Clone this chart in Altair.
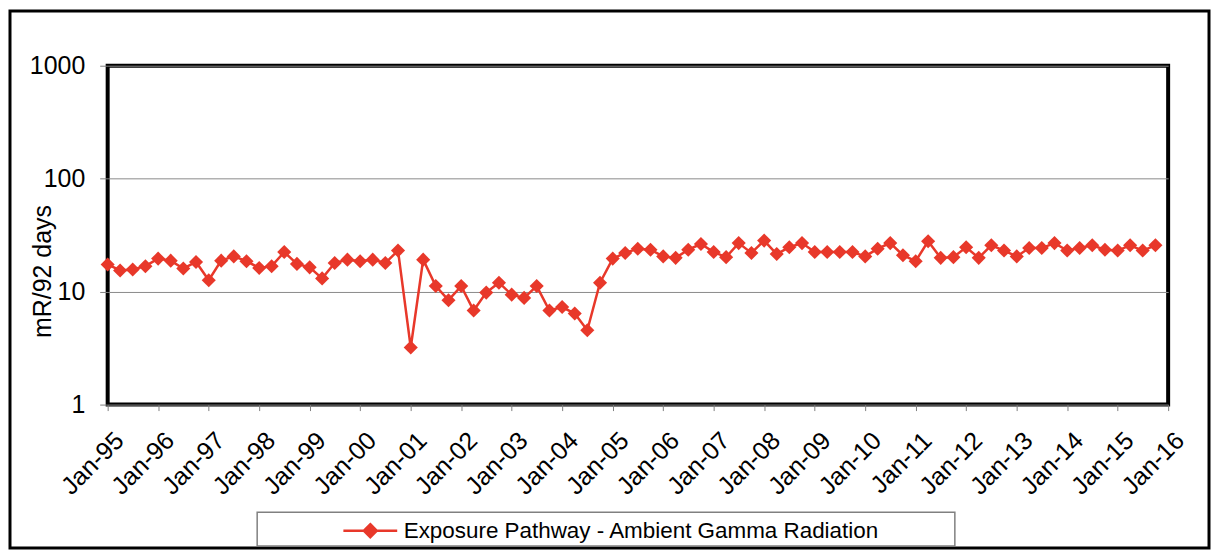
import altair as alt
import pandas as pd

SERIES = "Exposure Pathway - Ambient Gamma Radiation"
RED = "#E8382A"

# quarterly readings, Jan-95 .. Oct-15 (mR/92 days)
values = [
    17.4, 15.4, 15.7, 16.8,   # 1995
    19.6, 18.8, 16.0, 18.3,   # 1996
    12.6, 18.8, 20.5, 18.6,   # 1997
    16.2, 16.8, 22.4, 17.6,   # 1998
    16.4, 13.1, 17.9, 19.2,   # 1999
    18.6, 19.2, 17.9, 23.1,   # 2000
    3.2, 19.2, 11.2, 8.4,     # 2001
    11.2, 6.8, 9.8, 12.0,     # 2002
    9.4, 8.8, 11.2, 6.8,      # 2003
    7.3, 6.4, 4.55, 12.0,     # 2004
    19.6, 22.0, 24.0, 23.5,   # 2005
    20.5, 19.9, 23.5, 26.4,   # 2006
    22.4, 20.2, 26.9, 22.0,   # 2007
    28.3, 21.5, 24.7, 26.9,   # 2008
    22.4, 22.4, 22.4, 22.4,   # 2009
    20.5, 24.0, 26.9, 21.0,   # 2010
    18.6, 27.9, 19.9, 20.2,   # 2011
    24.7, 19.9, 25.7, 23.1,   # 2012
    20.5, 24.3, 24.3, 26.9,   # 2013
    23.1, 24.3, 25.7, 23.5,   # 2014
    23.1, 25.7, 23.1, 25.7,   # 2015
]
dates = pd.date_range("1995-01-01", periods=len(values), freq="QS").strftime("%Y-%m-%d").tolist()
tick_years = list(range(1995, 2017))
y_ticks = [1, 10, 100, 1000]

df = pd.DataFrame({"date": dates, "value": values, "series": SERIES})

x_enc = alt.X(
    "date:T",
    scale=alt.Scale(domain=["1995-01-01", "2016-01-01"]),
    axis=alt.Axis(
        values=[f"{y}-01-01" for y in tick_years],
        format="%b-%y",
        labelAngle=315,
        labelAlign="right",
        labelBaseline="top",
        labelFontSize=25,
        labelPadding=17,
        labelOffset=3,
        labelColor="black",
        labelFont="Liberation Sans",
        tickColor="#808080",
        tickSize=6,
        domain=False,
        grid=False,
        title=None,
        labelOverlap=False,
    ),
)
y_enc = alt.Y(
    "value:Q",
    scale=alt.Scale(type="log", domain=[1, 1000]),
    axis=alt.Axis(
        values=y_ticks,
        format="d",
        labelFontSize=25,
        labelFont="Liberation Sans",
        labelColor="black",
        labelPadding=15,
        tickColor="#808080",
        tickSize=8,
        domain=False,
        grid=True,
        gridColor="#8a8a8a",
        gridWidth=1,
        title="mR/92 days",
        titleFont="Liberation Sans",
        titleFontSize=25,
        titleFontWeight="normal",
        titleColor="black",
        titleX=-65,
        titleY=206,
        titleAlign="center",
        titleBaseline="middle",
        titleAngle=270,
    ),
)

line = alt.Chart(df).mark_line(color=RED, strokeWidth=2.5).encode(x=x_enc, y=y_enc)
points = alt.Chart(df).mark_point(shape="diamond", filled=True, size=200, opacity=1).encode(
    x="date:T",
    y="value:Q",
    color=alt.Color(
        "series:N",
        scale=alt.Scale(domain=[SERIES], range=[RED]),
        legend=alt.Legend(
            title=None,
            orient="none",
            legendX=235,
            legendY=438,
            padding=0,
            symbolType="M-1,0L1,0M0,-0.24L0.24,0L0,0.24L-0.24,0Z",
            symbolSize=2916,
            symbolStrokeColor=RED,
            symbolFillColor=RED,
            symbolStrokeWidth=2.5,
            labelFontSize=22.5,
            labelFont="Liberation Sans",
            labelColor="black",
            labelOffset=5,
            labelLimit=0,
        ),
    ),
)

frame_data = alt.Data(values=[{"a": 1}])
outer = alt.Chart(frame_data).mark_rect(fill=None, stroke="black", strokeWidth=3).encode(
    x=alt.value(-98), x2=alt.value(1105), y=alt.value(-55), y2=alt.value(484)
)
legend_box = alt.Chart(frame_data).mark_rect(fill=None, stroke="#808080", strokeWidth=1.5).encode(
    x=alt.value(150), x2=alt.value(850), y=alt.value(448), y2=alt.value(482)
)

chart = (
    alt.layer(outer, legend_box, line, points)
    .properties(width=1064, height=340, padding=0)
    .configure(background="white")
    .configure_view(stroke="black", strokeWidth=4)
)

chart.save("out.html", embed_options={"renderer": "svg", "actions": False})
